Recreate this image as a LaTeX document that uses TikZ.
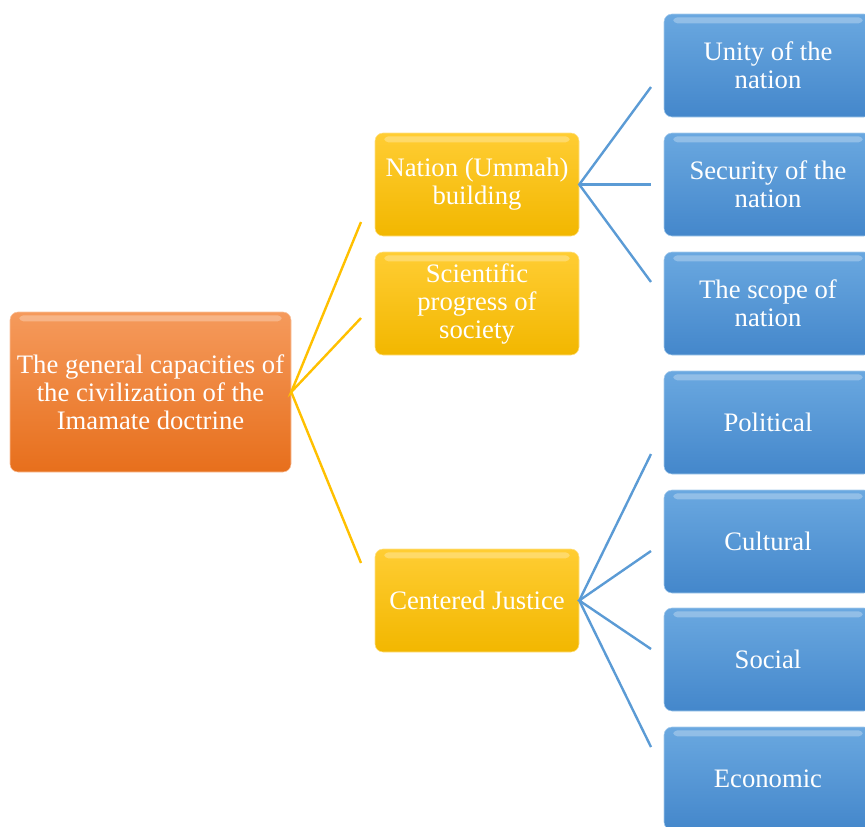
\documentclass[tikz,border=0pt]{standalone}
\usepackage{fontspec}
\setmainfont{Liberation Serif}

\definecolor{rootTop}{HTML}{F59A5C}
\definecolor{rootBot}{HTML}{E76F1C}
\definecolor{midTop}{HTML}{FFCD33}
\definecolor{midBot}{HTML}{F2B700}
\definecolor{leafTop}{HTML}{6AA8E0}
\definecolor{leafBot}{HTML}{4487CB}
\definecolor{leafLine}{HTML}{5B9BD5}
\definecolor{midLine}{HTML}{FFC000}

\begin{document}
\begin{tikzpicture}[
    x=0.75pt, y=-0.75pt,
    every node/.style={font=\fontsize{20}{21}\selectfont, text=white, align=center, inner sep=2pt},
    gloss/.style={path picture={
        \fill[white, opacity=0.28, rounded corners=3pt]
          ([xshift=7pt,yshift=-2.5pt]path picture bounding box.north west)
          rectangle ([xshift=-7pt,yshift=-7pt]path picture bounding box.north east);}},
    rootbox/.style={rounded corners=6pt, draw=rootTop!60!white, top color=rootTop, bottom color=rootBot, minimum width=210.75pt, minimum height=120pt, gloss},
    midbox/.style={rounded corners=6pt, draw=midTop!60!white, top color=midTop, bottom color=midBot, minimum width=153pt, minimum height=77.25pt, gloss},
    leafbox/.style={rounded corners=6pt, draw=leafTop!60!white, top color=leafTop, bottom color=leafBot, minimum width=156pt, minimum height=77.25pt, gloss},
    midlink/.style={draw=midLine, line width=1.8pt},
    leaflink/.style={draw=leafLine, line width=1.8pt}
]
\useasboundingbox (0,0) rectangle (865,826);

% Left: root
\node[rootbox] (root) at (150.5,392) {The general capacities of\\the civilization of the\\Imamate doctrine};

% Middle: capacities
\node[midbox] (nation)  at (477,184.5) {Nation (Ummah)\\building};
\node[midbox] (science) at (477,303.5) {Scientific\\progress of\\society};
\node[midbox] (justice) at (477,600.5) {Centered Justice};

% Right: nation building
\node[leafbox] (unity)    at (768,65.5)  {Unity of the\\nation};
\node[leafbox] (security) at (768,184.5) {Security of the\\nation};
\node[leafbox] (scope)    at (768,303.5) {The scope of\\nation};

% Right: justice
\node[leafbox] (political) at (768,422.5) {Political};
\node[leafbox] (cultural)  at (768,541.5) {Cultural};
\node[leafbox] (social)    at (768,659.5) {Social};
\node[leafbox] (economic)  at (768,778.5) {Economic};

% free ends of the links
\coordinate (nation-in)  at (361,222);
\coordinate (science-in) at (361,318);
\coordinate (justice-in) at (361,563);

\coordinate (unity-in)    at (651,87);
\coordinate (security-in) at (651,184.5);
\coordinate (scope-in)    at (651,282);

\coordinate (political-in) at (651,454);
\coordinate (cultural-in)  at (651,551);
\coordinate (social-in)    at (651,649);
\coordinate (economic-in)  at (651,747);

\draw[midlink] (nation-in) -- (root.east) -- (science-in);
\draw[midlink] (root.east) -- (justice-in);

\draw[leaflink] (unity-in) -- (nation.east) -- (scope-in);
\draw[leaflink] (nation.east) -- (security-in);

\draw[leaflink] (political-in) -- (justice.east) -- (economic-in);
\draw[leaflink] (cultural-in) -- (justice.east) -- (social-in);

\end{tikzpicture}
\end{document}
